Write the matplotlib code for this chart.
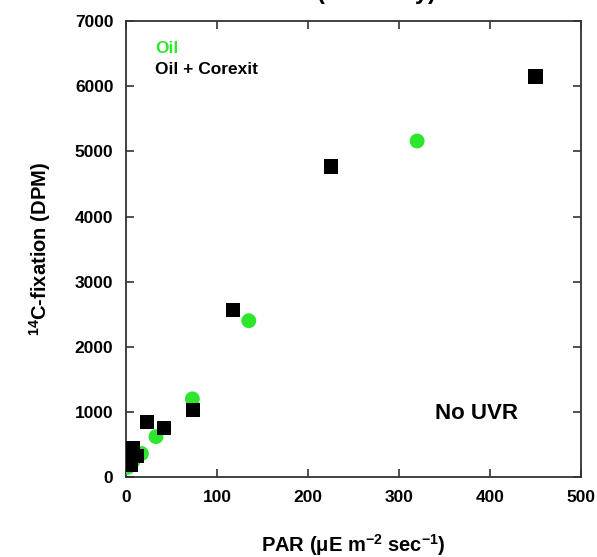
import matplotlib
matplotlib.use('Agg')
import matplotlib.pyplot as plt

plt.rcParams['font.family'] = ['Liberation Sans', 'DejaVu Sans']
plt.rcParams['font.weight'] = 'bold'
plt.rcParams['mathtext.fontset'] = 'custom'
plt.rcParams['mathtext.rm'] = 'Liberation Sans:bold'
plt.rcParams['mathtext.bf'] = 'Liberation Sans:bold'
plt.rcParams['mathtext.default'] = 'bf'

# Oil alone
oil_par = [2, 8, 17, 33, 73, 135, 320]
oil_c14 = [150, 250, 360, 620, 1200, 2400, 5160]
# Oil + Corexit
cor_par = [3, 5, 6, 12, 8, 23, 42, 74, 118, 225, 450]
cor_c14 = [270, 180, 350, 320, 440, 840, 750, 1030, 2570, 4770, 6150]

green = '#2ee62e'

fig = plt.figure(figsize=(5.97, 5.57), dpi=100)
ax = fig.add_axes([0.211, 0.1436, 0.762, 0.8184])

ax.scatter(oil_par, oil_c14, marker='o', s=115, color=green, edgecolors='none', zorder=3)
ax.scatter(cor_par, cor_c14, marker='s', s=105, color='black', edgecolors='none', zorder=4)

ax.set_xlim(0, 500)
ax.set_ylim(0, 7000)
ax.set_xticks(range(0, 501, 100))
ax.set_yticks(range(0, 7001, 1000))
ax.tick_params(direction='in', length=6, width=1.2, top=True, right=True,
               labelsize=12.5, pad=9, color='#333333')
for lab in ax.get_xticklabels() + ax.get_yticklabels():
    lab.set_fontweight('bold')
for sp in ax.spines.values():
    sp.set_linewidth(1.3)
    sp.set_color('#333333')

ax.set_xlabel(r'PAR ($\mu$E m$^{-2}$ sec$^{-1}$)', fontsize=14.5, fontweight='bold', labelpad=20)
ax.set_ylabel(r'$^{14}$C-fixation (DPM)', fontsize=14.5, fontweight='bold', labelpad=16)

ax.text(0.064, 0.941, 'Oil', color=green, fontsize=12.5, fontweight='bold',
        transform=ax.transAxes, va='center')
ax.text(0.064, 0.893, 'Oil + Corexit', color='black', fontsize=12.5, fontweight='bold',
        transform=ax.transAxes, va='center')
ax.text(0.771, 0.140, 'No UVR', fontsize=16, fontweight='bold',
        transform=ax.transAxes, ha='center', va='center')

# heading sits mostly above the canvas
fig.text(0.63, 0.992, '(PAR only)', fontsize=17, fontweight='bold',
         ha='center', va='bottom')

fig.savefig('out.png', dpi=100)
